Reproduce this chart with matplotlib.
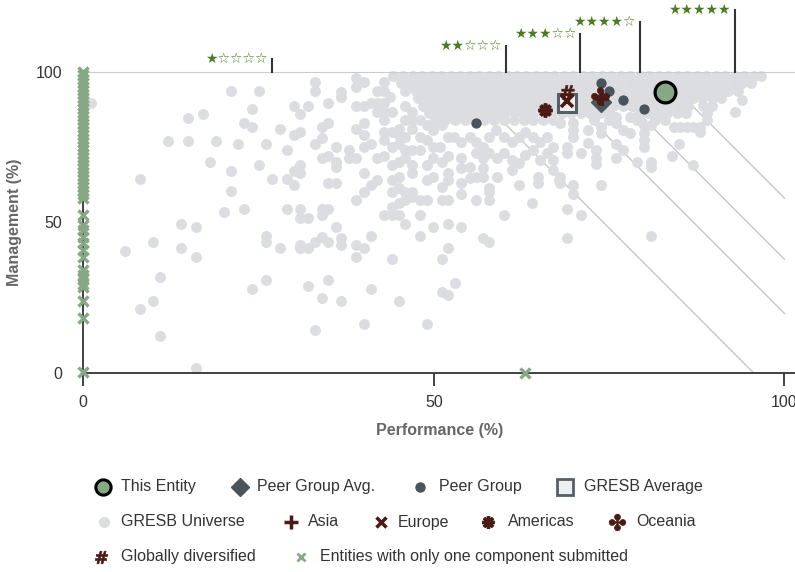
import matplotlib
matplotlib.use("Agg")
import matplotlib.pyplot as plt

plt.rcParams['font.family'] = ['Liberation Sans', 'DejaVu Sans']

# --- data (Performance %, Management %) ---
this_entity = (83.0, 93.4)
peer_avg = (73.9, 90.0)
gresb_avg = (69.0, 89.7)
peer_perf = [73.9, 75.0, 76.9, 80.0, 56.0]
peer_mgmt = [96.3, 93.6, 90.7, 87.6, 82.9]

asia = (74.0, 91.0)
europe = (69.0, 90.3)
americas = (65.9, 87.3)
oceania = (73.7, 91.8)
global_div = (69.0, 93.4)

# entities with only one component submitted
one_perf = [0] * 50 + [63.0]
one_mgmt = [100, 98.8, 97.5, 96.3, 95.0, 93.8, 92.6, 91.3, 90.1, 88.9, 87.6, 86.4,
            85.2, 83.9, 82.7, 81.5, 80.2, 79.0, 77.8, 76.5, 75.3, 74.1, 72.8, 71.6,
            70.4, 69.1, 67.9, 66.7, 65.4, 64.2, 63.0, 61.7, 60.5, 59.3, 58.1,
            52.4, 49.1, 47.4, 45.2, 43.0, 40.8, 38.5, 34.1, 32.5, 31.0, 29.5, 28.6,
            23.9, 18.1, 0.3, 0.0]

# score thresholds drawn as iso-score lines (score = 0.7*perf + 0.3*mgmt)
score_lines = [66.9, 75.9, 81.3, 87.4]
perf_weight = 0.7
mgmt_weight = 0.3

# star bands: performance position of each marker and label
star_x = [26.9, 60.3, 70.9, 79.4, 92.9]
star_labels = ["★☆☆☆☆", "★★☆☆☆", "★★★☆☆", "★★★★☆", "★★★★★"]
star_top = [104.3, 108.4, 112.5, 116.4, 120.4]

# GRESB universe, sparse part (perf, mgmt)
uni_sparse = [
    (1.1, 89.7), (21.0, 93.6), (25.0, 93.6), (33.0, 96.5), (33.0, 93.6), (36.7, 93.4),
    (36.7, 91.7), (30.0, 88.7), (32.1, 88.7), (34.9, 89.7), (24.1, 87.6), (30.9, 85.8),
    (15.0, 84.7), (17.0, 85.8), (22.9, 82.9), (24.1, 81.7), (28.1, 80.9), (30.0, 79.0),
    (30.9, 80.0), (34.0, 81.7), (34.9, 82.9), (12.1, 77.0), (15.0, 77.0), (18.9, 77.0),
    (22.0, 76.0), (26.0, 76.0), (29.0, 74.0), (33.0, 76.0), (34.0, 77.9), (36.1, 74.9),
    (18.0, 70.1), (21.0, 67.1), (25.0, 69.0), (34.0, 71.2), (34.9, 72.0), (36.1, 70.1),
    (36.1, 68.4), (30.9, 69.0), (30.0, 67.1), (30.9, 66.2), (8.1, 64.2), (26.9, 64.2),
    (29.0, 64.2), (30.0, 62.3), (34.9, 63.1), (36.1, 63.1), (21.0, 60.3), (20.1, 53.3),
    (22.9, 54.3), (29.0, 54.3), (30.9, 54.3), (30.9, 51.4), (32.1, 51.4), (34.0, 54.3),
    (34.9, 54.3), (34.0, 52.3), (36.1, 48.5), (14.0, 49.4), (16.1, 48.5), (10.0, 43.5),
    (6.0, 40.5), (14.0, 41.5), (16.1, 38.5), (26.0, 45.5), (26.0, 43.5), (28.1, 41.5),
    (30.9, 42.4), (30.9, 41.5), (32.1, 41.5), (33.0, 43.5), (34.0, 45.2), (34.9, 43.5),
    (36.7, 44.6), (36.7, 42.4), (10.9, 31.7), (10.0, 23.9), (8.1, 21.1), (10.9, 12.2),
    (16.1, 1.5), (24.1, 27.8), (26.0, 30.8), (32.1, 28.8), (34.0, 24.9), (34.9, 30.8),
    (36.7, 23.9), (33.0, 14.2),
    (38.9, 97.8), (38.9, 95.0), (40.0, 96.5), (42.9, 96.5), (41.9, 93.6), (42.9, 93.6),
    (43.8, 91.7), (45.9, 93.6), (46.9, 95.6), (38.9, 88.7), (40.0, 88.7), (41.0, 89.7),
    (41.9, 89.7), (42.9, 89.7), (41.9, 86.7), (42.9, 86.7), (42.9, 83.9), (44.0, 86.7),
    (45.9, 88.7), (46.9, 86.7), (45.9, 83.9), (46.9, 83.9), (38.9, 80.8), (40.0, 82.8),
    (40.0, 79.0), (42.9, 80.1), (44.0, 80.1), (45.0, 80.8), (45.0, 79.0), (37.9, 74.0),
    (40.0, 74.9), (41.0, 76.0), (42.9, 77.3), (44.0, 75.1), (45.0, 76.0), (45.9, 74.0),
    (46.9, 74.0), (48.0, 74.0), (49.0, 77.3), (49.9, 75.1), (37.9, 71.2), (38.9, 71.2),
    (40.0, 66.2), (41.9, 71.2), (42.9, 72.0), (44.0, 69.0), (45.0, 70.1), (45.9, 71.2),
    (46.9, 69.0), (46.9, 66.2), (49.0, 69.0), (49.9, 71.2), (51.1, 70.1), (52.0, 72.0),
    (53.9, 71.2), (40.0, 60.1), (41.0, 62.3), (41.9, 64.0), (44.0, 64.0), (45.0, 65.1),
    (44.0, 60.1), (45.0, 61.2), (45.9, 60.1), (46.9, 60.1), (49.0, 64.0), (49.9, 65.1),
    (51.1, 61.8), (52.0, 64.0), (52.0, 66.2), (53.9, 63.1), (55.1, 64.6), (56.0, 65.1),
    (57.0, 65.1), (38.9, 57.4), (42.9, 52.3), (44.0, 52.3), (45.0, 52.3), (44.0, 55.2),
    (45.0, 56.3), (45.9, 57.4), (46.9, 58.5), (48.0, 57.4), (49.0, 57.4), (51.1, 57.4),
    (52.0, 57.4), (53.9, 59.4), (56.0, 57.4), (57.9, 57.4), (57.9, 60.1), (57.9, 61.2),
    (38.9, 42.4), (40.0, 41.5), (41.0, 45.5), (38.9, 38.5), (48.0, 45.5), (45.9, 49.4),
    (48.0, 52.3), (49.9, 48.5), (52.0, 49.4), (53.9, 48.5), (60.0, 52.3), (64.0, 56.3),
    (44.0, 37.7), (51.1, 37.7), (52.0, 41.5), (57.0, 44.6), (57.9, 43.5), (41.0, 27.8),
    (45.0, 23.9), (51.1, 26.9), (52.0, 25.8), (53.0, 29.9), (40.0, 16.1), (49.0, 16.1),
    (52.8, 78.4), (53.9, 76.7), (55.1, 78.4), (56.0, 76.7), (57.0, 75.1), (57.9, 78.4),
    (58.9, 80.6), (60.0, 78.4), (61.1, 76.7), (62.1, 78.4), (63.0, 80.1), (64.2, 78.4),
    (65.1, 76.7), (66.1, 78.4), (67.0, 75.1), (56.0, 72.9), (57.0, 71.2), (57.9, 72.9),
    (59.0, 71.2), (60.0, 72.9), (61.1, 70.7), (62.1, 69.6), (63.0, 72.3), (64.2, 74.0),
    (65.1, 70.7), (66.1, 72.9), (67.0, 70.7), (59.0, 65.1), (61.1, 67.3), (62.1, 62.3),
    (64.9, 65.1), (64.9, 62.9), (67.0, 67.3), (67.8, 64.0), (53.9, 67.9), (55.1, 68.4),
    (57.0, 67.9), (48.0, 83.9), (49.0, 82.3), (49.9, 80.6), (51.1, 82.3), (52.0, 78.4),
    (50.9, 75.1), (48.0, 78.4), (45.9, 78.4), (46.9, 80.8),
    (84.9, 76.0), (83.9, 72.0), (87.0, 69.0), (79.0, 70.1), (80.9, 70.1), (80.9, 68.4),
    (80.0, 75.1), (80.0, 77.3), (80.0, 79.5), (76.0, 76.0), (76.0, 71.2), (76.9, 74.0),
    (73.1, 74.0), (73.1, 71.2), (73.1, 69.5), (73.9, 62.3), (69.9, 62.3), (69.9, 59.4),
    (69.0, 54.3), (71.0, 52.4), (69.0, 44.6), (80.9, 45.5), (68.0, 65.1), (68.0, 62.9),
    (69.0, 72.9), (69.0, 75.1), (71.0, 72.9), (72.0, 76.2), (69.9, 78.4), (69.9, 80.6),
    (69.9, 82.9), (68.0, 82.9), (72.0, 80.6), (73.9, 81.7), (73.9, 79.5), (76.0, 82.9),
    (76.9, 80.6), (77.9, 79.5), (79.0, 84.0), (80.0, 82.3), (80.9, 82.3), (76.0, 85.0),
    (77.9, 85.0), (84.2, 81.7), (85.1, 81.7), (86.1, 81.7), (87.0, 81.7), (88.0, 81.7),
    (88.0, 80.1), (88.9, 86.2), (88.9, 83.9), (93.9, 90.6), (93.0, 86.7),
]

# GRESB universe, dense band near the top: one row of performance values per management level
dense_rows = {
    98.6: [44.2, 45.6, 47.0, 48.3, 49.7, 51.0, 52.4, 53.7, 55.1, 56.4, 57.8, 59.1, 60.5,
           61.8, 63.2, 64.5, 65.9, 67.2, 68.6, 69.9, 71.3, 72.6, 74.0, 75.3, 76.7, 78.0,
           79.4, 80.7, 82.1, 83.4, 84.8, 86.1, 87.5, 88.8, 90.2, 91.5, 92.9, 94.2, 95.6, 96.6],
    96.2: [45.3, 46.8, 48.0, 49.5, 50.8, 52.1, 53.5, 54.9, 56.2, 57.5, 58.9, 60.2, 61.6,
           62.9, 64.3, 65.6, 67.0, 68.3, 69.7, 71.0, 72.4, 73.7, 75.1, 76.4, 77.8, 79.1,
           80.5, 81.8, 83.2, 84.5, 85.9, 87.2, 88.6, 89.9, 91.3, 92.6, 94.0, 95.2],
    93.7: [47.4, 48.8, 50.1, 51.5, 52.8, 54.2, 55.5, 56.9, 58.2, 59.6, 60.9, 62.3, 63.6,
           65.0, 66.3, 67.7, 69.0, 70.4, 71.7, 73.1, 74.4, 75.8, 77.1, 78.5, 79.8, 81.2,
           82.5, 83.9, 85.2, 86.6, 87.9, 89.3, 90.6, 92.0, 93.4],
    91.2: [47.8, 49.2, 50.5, 51.9, 53.2, 54.6, 55.9, 57.3, 58.6, 60.0, 61.3, 62.7, 64.0,
           65.4, 66.7, 68.1, 69.4, 70.8, 72.1, 73.5, 74.8, 76.2, 77.5, 78.9, 80.2, 81.6,
           82.9, 84.3, 85.6, 87.0, 88.3, 89.7, 91.0],
    88.7: [48.5, 49.9, 51.2, 52.6, 53.9, 55.3, 56.6, 58.0, 59.3, 60.7, 62.0, 63.4, 64.7,
           66.1, 67.4, 68.8, 70.1, 71.5, 72.8, 74.2, 75.5, 76.9, 78.2, 79.6, 80.9, 82.3,
           83.6, 85.0, 86.3, 88.4, 89.6],
    86.2: [49.3, 50.7, 52.0, 53.4, 54.7, 56.1, 57.4, 58.8, 60.1, 61.5, 62.8, 64.2, 65.5,
           66.9, 68.2, 69.6, 71.0, 72.3, 73.7, 75.0, 79.2, 80.6, 82.0, 83.3, 84.6, 86.0],
    83.9: [50.2, 51.6, 53.0, 54.4, 55.8, 57.2, 58.6, 60.0, 61.4, 62.8, 64.2, 65.6, 67.0,
           72.8, 75.0, 81.5, 83.0],
}

GREEN = "#86a884"
SLATE = "#4a545d"
BROWN = "#4b1a14"
UNI = "#dcdde0"
STAR_GREEN = "#4b7a1f"
TXT = "#333333"


def universe_points():
    xs = [p[0] for p in uni_sparse]
    ys = [p[1] for p in uni_sparse]
    for m, row in dense_rows.items():
        xs += row
        ys += [m] * len(row)
    return xs, ys


fig = plt.figure(figsize=(7.95, 5.72), dpi=100)
ax = fig.add_axes([83.3 / 795, 199.3 / 572, (795 - 83.3) / 795, 301 / 572])
ax.set_xlim(0, 101.5)
ax.set_ylim(0, 100)

# iso-score lines
for c in score_lines:
    x_top = (c - mgmt_weight * 100) / perf_weight
    if c >= perf_weight * 100:
        x_end, y_end = 100, (c - perf_weight * 100) / mgmt_weight
    else:
        x_end, y_end = c / perf_weight, 0
    ax.plot([x_top, x_end], [100, y_end], color="#c6c6c6", lw=1, zorder=1)

ux, uy = universe_points()
ax.scatter(ux, uy, s=62, color=UNI, linewidths=0, zorder=2, clip_on=False)

ax.plot(one_perf, one_mgmt, 'x', color=GREEN, ms=6.5, mew=2.4, ls='none', zorder=3, clip_on=False)

ax.scatter(peer_perf, peer_mgmt, s=55, color=SLATE, linewidths=0, zorder=4)
ax.plot(*peer_avg, 'D', ms=10.5, color=SLATE, zorder=4)
ax.plot(*gresb_avg, 's', ms=13.5, mfc="#eeeff1", mec="#555f66", mew=2.2, zorder=4)

# regional averages
ax.plot(*americas, marker=(8, 2, 0), ms=10, mew=2.6, color=BROWN, ls='none', zorder=5)
ax.plot(*europe, 'x', ms=8, mew=2.6, color=BROWN, zorder=5)
ax.plot(*asia, '+', ms=10, mew=2.8, color=BROWN, zorder=5)
ax.plot(*oceania, marker='$\u2724$', ms=13, color=BROWN, mew=0.5, zorder=5)
ax.plot(*global_div, marker=r'$\mathbf{\#}$', ms=10, color=BROWN, mew=0.5, zorder=5)

ax.plot(*this_entity, 'o', ms=15, mfc=GREEN, mec="black", mew=2.3, zorder=6)

# star band markers above the plot
for x, lab, top in zip(star_x, star_labels, star_top):
    ax.plot([x, x], [100, top], color=TXT, lw=1.5, clip_on=False, zorder=6)
    ax.annotate(lab, (x, top), xytext=(-3, 0), textcoords='offset points',
                ha='right', va='center', fontsize=10, color=STAR_GREEN,
                family=['DejaVu Sans'], annotation_clip=False)

for side in ['right']:
    ax.spines[side].set_visible(False)
ax.spines['top'].set_color("#cccccc")
ax.spines['left'].set_color(TXT)
ax.spines['bottom'].set_color(TXT)
ax.spines['left'].set_linewidth(1.3)
ax.spines['bottom'].set_linewidth(1.3)

ax.set_xticks([0, 50, 100])
ax.set_yticks([0, 50, 100])
ax.tick_params(axis='x', length=9, width=1.3, color=TXT, labelsize=11.5, labelcolor=TXT, pad=7)
ax.tick_params(axis='y', length=0, labelsize=11.5, labelcolor=TXT, pad=15)

fig.text(440 / 795, 1 - 430 / 572, "Performance (%)", ha='center', va='center',
         fontsize=11.5, fontweight='bold', color="#666666")
fig.text(15 / 795, 1 - 222 / 572, "Management (%)", ha='center', va='center',
         rotation=90, fontsize=11.5, fontweight='bold', color="#666666")

# legend drawn by hand in pixel coordinates
lax = fig.add_axes([0, 0, 1, 1])
lax.set_xlim(0, 795)
lax.set_ylim(572, 0)
lax.axis('off')

legend_items = [
    (103, 487, dict(marker='o', ms=11, mfc=GREEN, mec='black', mew=2.2), "This Entity"),
    (240, 487, dict(marker='D', ms=9.5, color=SLATE), "Peer Group Avg."),
    (420, 487, dict(marker='o', ms=6.5, color=SLATE), "Peer Group"),
    (565, 487, dict(marker='s', ms=12, mfc="#eeeff1", mec="#555f66", mew=2), "GRESB Average"),
    (104, 522, dict(marker='o', ms=7, color=UNI), "GRESB Universe"),
    (291, 522, dict(marker='+', ms=10, mew=2.5, color=BROWN), "Asia"),
    (381, 522, dict(marker='x', ms=7, mew=2.5, color=BROWN), "Europe"),
    (488, 522, dict(marker=(8, 2, 0), ms=9, mew=2.4, color=BROWN), "Americas"),
    (617, 522, dict(marker='$\u2724$', ms=12, mew=0.5, color=BROWN), "Oceania"),
    (101, 557, dict(marker=r'$\mathbf{\#}$', ms=9, mew=0.5, color=BROWN), "Globally diversified"),
    (301, 557, dict(marker='x', ms=5.5, mew=2, color=GREEN), "Entities with only one component submitted"),
]
text_x = {"This Entity": 121, "Peer Group Avg.": 257, "Peer Group": 439, "GRESB Average": 584,
          "GRESB Universe": 121, "Asia": 308, "Europe": 398, "Americas": 508, "Oceania": 636,
          "Globally diversified": 121, "Entities with only one component submitted": 320}

for mx, my, style, lab in legend_items:
    lax.plot([mx], [my], ls='none', **style)
    lax.text(text_x[lab], my, lab, ha='left', va='center', fontsize=11.5, color=TXT)

fig.savefig("out.png", dpi=100)
